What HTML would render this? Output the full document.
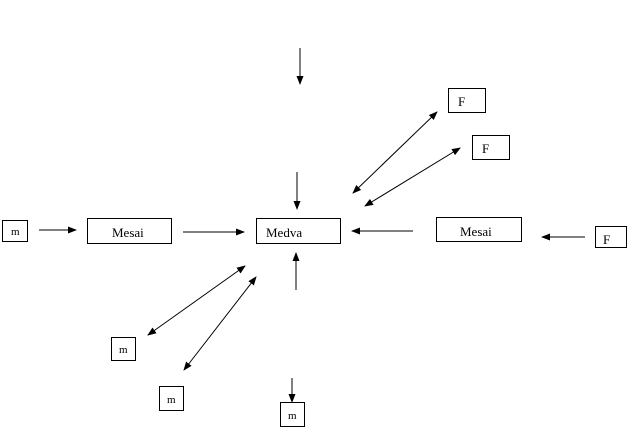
<!DOCTYPE html>
<html><head><meta charset="utf-8"><style>
body{margin:0;background:#fff;width:630px;height:429px;overflow:hidden}
</style></head><body>
<svg width="630" height="429" xmlns="http://www.w3.org/2000/svg" font-family="Liberation Serif, serif" font-size="13">
<defs>
<marker id="a" markerWidth="9" markerHeight="7" refX="8" refY="3.5" orient="auto" markerUnits="userSpaceOnUse">
<path d="M0,0 L9,3.5 L0,7 z" fill="#000"/></marker>
<marker id="s" markerWidth="9" markerHeight="7" refX="1" refY="3.5" orient="auto" markerUnits="userSpaceOnUse">
<path d="M9,0 L0,3.5 L9,7 z" fill="#000"/></marker>
</defs>
<g fill="#fff" stroke="#000" stroke-width="1">
<rect x="2.5" y="220.5" width="25" height="21"/>
<rect x="87.5" y="218.5" width="84" height="25"/>
<rect x="256.5" y="218.5" width="84" height="25"/>
<rect x="436.5" y="217.5" width="85" height="24"/>
<rect x="448.5" y="88.5" width="37" height="24"/>
<rect x="472.5" y="135.5" width="37" height="24"/>
<rect x="595.5" y="226.5" width="31" height="21"/>
<rect x="111.5" y="337.5" width="24" height="23"/>
<rect x="159.5" y="386.5" width="24" height="24"/>
<rect x="280.5" y="402.5" width="24" height="24"/>
</g>
<g fill="#000">
<text x="11" y="235" font-size="11">m</text>
<text x="112" y="237">Mesai</text>
<text x="266" y="237">Medva</text>
<text x="460" y="236">Mesai</text>
<text x="458" y="106">F</text>
<text x="482" y="153">F</text>
<text x="603" y="244">F</text>
<text x="119" y="353" font-size="11">m</text>
<text x="167" y="403" font-size="11">m</text>
<text x="288" y="419" font-size="11">m</text>
</g>
<g stroke="#000" stroke-width="1" fill="none">
<line x1="300" y1="48" x2="300" y2="84" marker-end="url(#a)"/>
<line x1="297" y1="172" x2="297" y2="209" marker-end="url(#a)"/>
<line x1="296" y1="290" x2="296" y2="253" marker-end="url(#a)"/>
<line x1="39" y1="230" x2="76" y2="230" marker-end="url(#a)"/>
<line x1="183" y1="232" x2="244" y2="232" marker-end="url(#a)"/>
<line x1="413" y1="231" x2="352" y2="231" marker-end="url(#a)"/>
<line x1="585" y1="237" x2="542" y2="237" marker-end="url(#a)"/>
<line x1="353" y1="193" x2="437" y2="112" marker-end="url(#a)" marker-start="url(#s)"/>
<line x1="365" y1="206" x2="460" y2="148" marker-end="url(#a)" marker-start="url(#s)"/>
<line x1="148" y1="335" x2="245" y2="266" marker-end="url(#a)" marker-start="url(#s)"/>
<line x1="184" y1="370" x2="256" y2="277" marker-end="url(#a)" marker-start="url(#s)"/>
<line x1="292" y1="378" x2="292" y2="402" marker-end="url(#a)"/>
</g>
</svg>
</body></html>
